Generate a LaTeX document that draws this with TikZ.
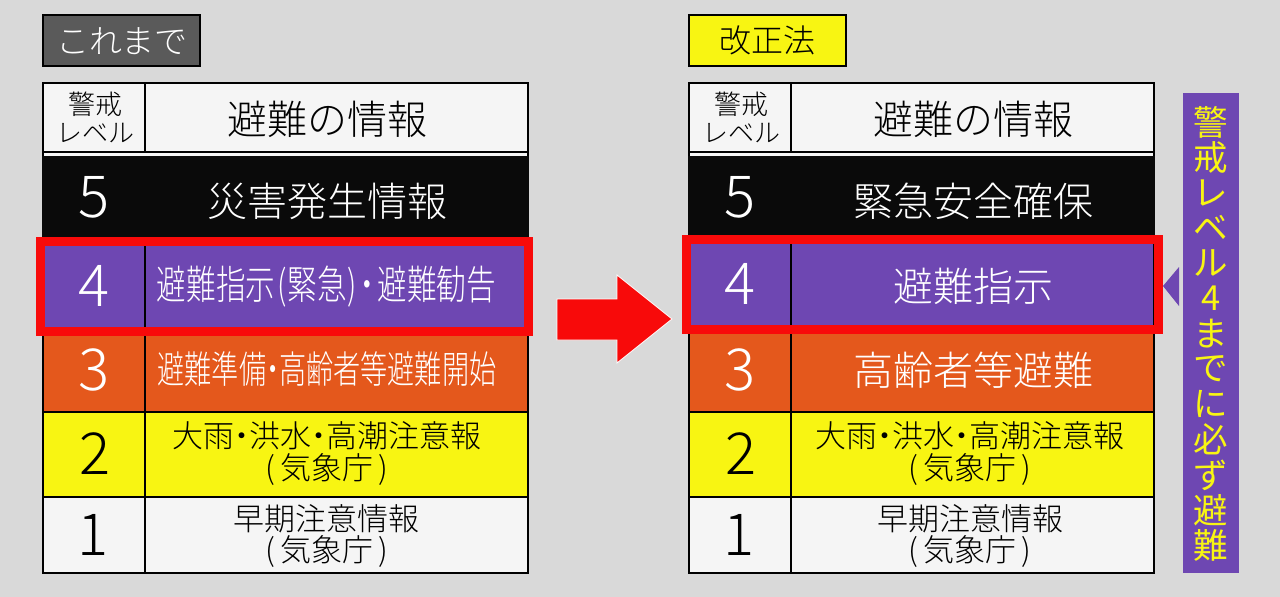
\documentclass[tikz,border=0pt]{standalone}
\usepackage{graphicx}
\usepackage{fontspec}
\setmainfont{Noto Sans CJK JP Light}
\newfontfamily\sidefont{Noto Sans CJK JP}
\definecolor{bgc}{HTML}{D9D9D9}
\definecolor{cw}{HTML}{F5F5F5}
\definecolor{ck}{HTML}{0A0A0A}
\definecolor{cp}{HTML}{6E47B2}
\definecolor{co}{HTML}{E4581C}
\definecolor{cy}{HTML}{F8F512}
\definecolor{cg}{HTML}{5A5A5A}
\definecolor{cr}{HTML}{F80A0A}
\newcommand{\fsz}[1]{\fontsize{#1}{#1}\selectfont}
\newcommand{\cellbox}[6]{% name x0 y0 x1 y1 style
  \node[cell,#6,minimum width={(#4-#2)*1pt},minimum height={(#5-#3)*1pt}] (#1) at ({(#2+#4)/2},{(#3+#5)/2}) {};}
\newcommand{\lab}[5]{% name x y style text
  \node[lab,#4] (#1) at (#2,#3) {#5};}
\newcommand{\ndot}[1]{\kern-#1pt・\kern-#1pt}
\newcommand{\kisho}{(\kern5pt 気象庁\kern5pt)}
\tikzset{
  x=1pt,y=-1pt,
  cell/.style={draw=black,line width=2.4pt,inner sep=0pt,outer sep=0pt},
  lab/.style={inner sep=0pt,outer sep=0pt,anchor=center},
  wc/.style={fill=cw},
  kc/.style={fill=ck,draw=ck},
  pc/.style={fill=cp},
  oc/.style={fill=co},
  yc/.style={fill=cy},
  num/.style={font=\fsz{58}},
  big/.style={font=\fsz{40}},
  two/.style={font=\fsz{31}},
  redframe/.style={draw=cr,line width=9pt,fill=none,inner sep=0pt},
  sidech/.style={lab,text=cy,font=\sidefont\fsz{34.5}},
}
\begin{document}
\begin{tikzpicture}
\useasboundingbox[fill=bgc] (0,0) rectangle (1280,597);
% title tags
\cellbox{tagA}{43}{15}{200}{66}{fill=cg}
\lab{tagAt}{122}{41}{text=white,font=\fsz{33}}{これまで}
\cellbox{tagB}{689}{15}{846}{66}{fill=cy}
\lab{tagBt}{767}{40}{text=black,font=\fsz{32}}{改正法}
% left table
\cellbox{lback}{43}{83}{528}{158}{wc}
\cellbox{lhA}{43}{83}{145}{152}{wc}
\cellbox{lhB}{145}{83}{528}{152}{wc}
\lab{lhAa}{95}{104}{font=\fsz{27}}{警戒}
\lab{lhAb}{95.5}{133}{font=\fsz{26}}{レベル}
\lab{lhBt}{327}{119}{big}{避難の情報}
\cellbox{l5A}{43}{157}{145}{240}{kc}
\cellbox{l5B}{145}{157}{528}{240}{kc}
\lab{l5n}{94}{197}{num,text=white}{5}
\lab{l5t}{327}{201}{big,text=white}{災害発生情報}
\cellbox{l3A}{43}{331}{145}{412}{oc}
\cellbox{l3B}{145}{331}{528}{412}{oc}
\lab{l3n}{94.5}{370}{num,text=white}{3}
\lab{l3t}{327}{369}{font=\fsz{38},text=white}{\scalebox{.715}[1]{避難準備\ndot{10}高齢者等避難開始}}
\cellbox{l2A}{43}{412}{145}{497}{yc}
\cellbox{l2B}{145}{412}{528}{497}{yc}
\lab{l2n}{95}{454}{num}{2}
\lab{l2a}{326.5}{436}{two}{大雨\ndot{8}洪水\ndot{8}高潮注意報}
\lab{l2b}{327}{470}{two}{\kisho}
\cellbox{l1A}{43}{497}{145}{573}{wc}
\cellbox{l1B}{145}{497}{528}{573}{wc}
\lab{l1n}{93}{535}{num}{1}
\lab{l1a}{326.5}{518.5}{two}{早期注意情報}
\lab{l1b}{327}{552}{two}{\kisho}
\cellbox{l4A}{43}{241}{145}{331}{pc}
\cellbox{l4B}{145}{241}{528}{331}{pc}
\lab{l4n}{94}{286}{num,text=white}{4}
\lab{l4t}{326.5}{287}{font=\fsz{40},text=white}{\scalebox{.74}[1]{避難指示\kern3pt(\kern1pt 緊急\kern1pt)\ndot{6}避難勧告}}
\node[redframe,minimum width=488.5pt,minimum height=90pt] (lred) at (284.25,286.5) {};
% right table
\cellbox{rback}{689}{83}{1154}{158}{wc}
\cellbox{rhA}{689}{83}{791}{152}{wc}
\cellbox{rhB}{791}{83}{1154}{152}{wc}
\lab{rhAa}{741}{104}{font=\fsz{27}}{警戒}
\lab{rhAb}{741.5}{133}{font=\fsz{26}}{レベル}
\lab{rhBt}{973}{119}{big}{避難の情報}
\cellbox{r5A}{689}{157}{791}{238}{kc}
\cellbox{r5B}{791}{157}{1154}{238}{kc}
\lab{r5n}{740}{197}{num,text=white}{5}
\lab{r5t}{973}{201}{big,text=white}{緊急安全確保}
\cellbox{r3A}{689}{329}{791}{412}{oc}
\cellbox{r3B}{791}{329}{1154}{412}{oc}
\lab{r3n}{740.5}{370}{num,text=white}{3}
\lab{r3t}{973}{370}{big,text=white}{高齢者等避難}
\cellbox{r2A}{689}{412}{791}{497}{yc}
\cellbox{r2B}{791}{412}{1154}{497}{yc}
\lab{r2n}{741}{454}{num}{2}
\lab{r2a}{970}{436}{two}{大雨\ndot{8}洪水\ndot{8}高潮注意報}
\lab{r2b}{970}{470}{two}{\kisho}
\cellbox{r1A}{689}{497}{791}{573}{wc}
\cellbox{r1B}{791}{497}{1154}{573}{wc}
\lab{r1n}{739}{535}{num}{1}
\lab{r1a}{970}{518.5}{two}{早期注意情報}
\lab{r1b}{970}{552}{two}{\kisho}
\cellbox{r4A}{689}{239}{791}{329}{pc}
\cellbox{r4B}{791}{239}{1154}{329}{pc}
\lab{r4n}{740}{284}{num,text=white}{4}
\lab{r4t}{973}{286}{big,text=white}{避難指示}
\node[redframe,minimum width=472pt,minimum height=90pt] (rred) at (922.5,284) {};
% big arrow
\fill[cr,draw=white,line width=0.8pt] (557,299) -- (617,299) -- (617,275) -- (672,319) -- (617,363) -- (617,340) -- (557,340) -- cycle;
% side label
\node[fill=cp,minimum width=56pt,minimum height=480pt,inner sep=0pt] (side) at (1211,333) {};
\foreach \c/\y [count=\i] in {警/122,戒/157.3,レ/192.6,ベ/227.9,ル/263.2,4/298.5,ま/333.8,で/369.1,に/404.4,必/439.7,ず/475,避/510.3,難/545.6}
  \node[sidech] (side\i) at (1211,\y) {\c};
\fill[cp] (1163,286) -- (1179,267) -- (1179,306) -- cycle;
\end{tikzpicture}
\end{document}
